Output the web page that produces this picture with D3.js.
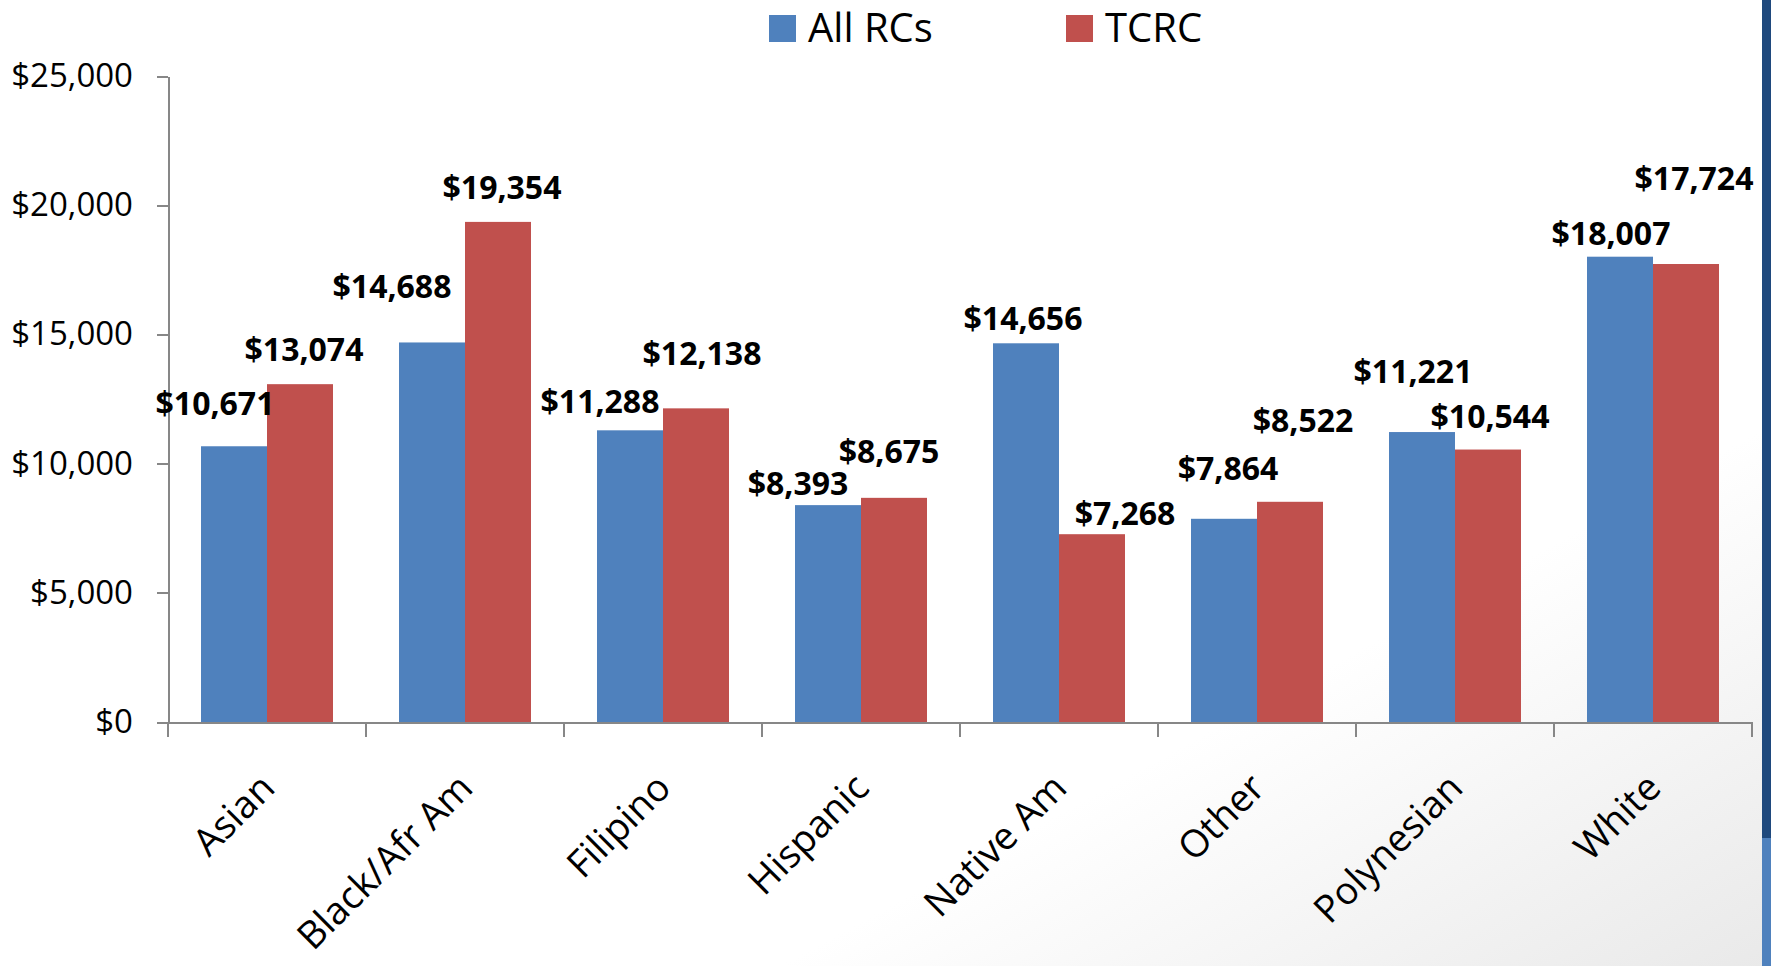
<!DOCTYPE html>
<html>
<head>
  <script src="https://d3js.org/d3.v7.min.js"></script>
  <style>
    body {
      margin: 0;
      overflow: hidden;
      background: #fff;
    }

    .axis path,
    .axis line {
      fill: none;
      stroke: #878787;
      stroke-width: 2;
      shape-rendering: crispEdges;
    }

    .axis text {
      font-family: "Open Sans", sans-serif;
      fill: #000;
    }

    .value-label {
      font-family: "Open Sans", sans-serif;
      font-weight: bold;
      font-size: 32px;
      fill: #000;
    }

    .legend text {
      font-family: "Open Sans", sans-serif;
      font-size: 40px;
      fill: #000;
    }
  </style>
</head>
<body>
  <div id="chart"></div>

  <script>
    var categories = ["Asian", "Black/Afr Am", "Filipino", "Hispanic", "Native Am", "Other", "Polynesian", "White"];
    var seriesNames = ["All RCs", "TCRC"];
    var allRCs = [10671, 14688, 11288, 8393, 14656, 7864, 11221, 18007];
    var tcrc = [13074, 19354, 12138, 8675, 7268, 8522, 10544, 17724];
    var yTicks = [0, 5000, 10000, 15000, 20000, 25000];

    // hand-placed label offsets (dx, dy) from the default spot above each bar
    var allNudge = [[-19, -23], [-40, -36], [-30, -9], [-30, -2], [-3, -5], [4, -31], [-9, -41], [-9, -4]];
    var tcrcNudge = [[4, -15], [4, -15], [6, -35], [-5, -27], [33, -1], [13, -62], [2, -14], [8, -66]];

    var w = 1771;
    var h = 966;
    var plotLeft = 168, plotRight = 1752, plotTop = 76, plotBottom = 722;
    var colors = ["#4f81bd", "#c0504d"];

    var svg = d3.select("#chart").append("svg")
      .attr("width", w)
      .attr("height", h);

    // slide background with a faint grey corner
    var defs = svg.append("defs");
    var grad = defs.append("linearGradient")
      .attr("id", "bg")
      .attr("x1", 0).attr("y1", 0).attr("x2", 1).attr("y2", 1);
    grad.append("stop").attr("offset", "0.72").attr("stop-color", "#ffffff");
    grad.append("stop").attr("offset", "1").attr("stop-color", "#e9e9e9");
    svg.append("rect").attr("width", w).attr("height", h).attr("fill", "url(#bg)");

    // right edge strip of the slide
    svg.append("rect").attr("x", 1762).attr("y", 0).attr("width", 9).attr("height", 838).attr("fill", "#1f497d");
    svg.append("rect").attr("x", 1762).attr("y", 838).attr("width", 9).attr("height", h - 838).attr("fill", "#4f81bd");

    var x0 = d3.scaleBand()
      .domain(categories)
      .range([plotLeft, plotRight])
      .paddingInner(1 / 3)
      .paddingOuter(1 / 6);

    var x1 = d3.scaleBand()
      .domain(seriesNames)
      .range([0, x0.bandwidth()]);

    var y = d3.scaleLinear()
      .domain([0, 25000])
      .range([plotBottom, plotTop]);

    var fmt = d3.format("$,");

    // y axis
    svg.append("g")
      .attr("class", "axis")
      .attr("transform", `translate(${plotLeft},0)`)
      .call(d3.axisLeft(y).tickValues(yTicks).tickFormat(fmt).tickSize(11).tickSizeOuter(0).tickPadding(24))
      .selectAll("text")
      .style("font-size", "33px");

    // x axis
    var xAxisGroup = svg.append("g")
      .attr("class", "axis")
      .attr("transform", `translate(0,${plotBottom})`)
      .call(d3.axisBottom(x0).tickSize(0).tickSizeOuter(0));

    xAxisGroup.selectAll("text")
      .attr("y", 0)
      .attr("x", 0)
      .attr("dy", 0)
      .attr("text-anchor", "end")
      .attr("transform", "translate(10,68) rotate(-45)")
      .style("font-size", "38px");

    // category boundary ticks
    var gap = (x0.step() - x0.bandwidth()) / 2;
    var bounds = categories.map(c => x0(c) - gap).concat([plotRight]);
    xAxisGroup.selectAll(".bound")
      .data(bounds)
      .enter().append("line")
      .attr("class", "bound")
      .attr("x1", d => d).attr("x2", d => d)
      .attr("y1", 0).attr("y2", 15);

    // bars
    var rows = categories.map((c, i) => ({
      cat: c,
      vals: [
        { s: seriesNames[0], v: allRCs[i], nudge: allNudge[i] },
        { s: seriesNames[1], v: tcrc[i], nudge: tcrcNudge[i] }
      ]
    }));

    var groups = svg.selectAll(".grp")
      .data(rows)
      .enter().append("g")
      .attr("class", "grp")
      .attr("transform", d => `translate(${x0(d.cat)},0)`);

    groups.selectAll("rect")
      .data(d => d.vals)
      .enter().append("rect")
      .attr("x", d => x1(d.s))
      .attr("y", d => y(d.v))
      .attr("width", x1.bandwidth())
      .attr("height", d => plotBottom - y(d.v))
      .attr("fill", (d, i) => colors[i]);

    groups.selectAll("text")
      .data(d => d.vals)
      .enter().append("text")
      .attr("class", "value-label")
      .attr("text-anchor", "middle")
      .attr("x", d => x1(d.s) + x1.bandwidth() / 2 + d.nudge[0])
      .attr("y", d => y(d.v) - 8 + d.nudge[1])
      .text(d => fmt(d.v));

    // legend
    var legend = svg.append("g").attr("class", "legend");
    var legendX = [769, 1066];
    seriesNames.forEach((s, i) => {
      legend.append("rect")
        .attr("x", legendX[i]).attr("y", 15)
        .attr("width", 27).attr("height", 27)
        .attr("fill", colors[i]);
      legend.append("text")
        .attr("x", legendX[i] + 39)
        .attr("y", 42)
        .text(s);
    });
  </script>
</body>
</html>
